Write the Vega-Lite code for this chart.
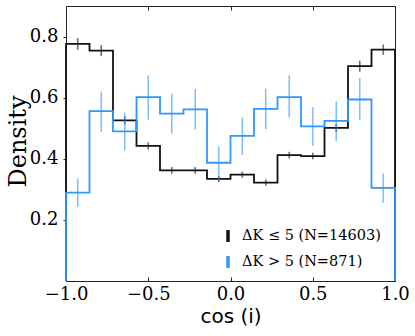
{
  "$schema": "https://vega.github.io/schema/vega-lite/v6.json",
  "width": 329,
  "height": 275,
  "autosize": {"type": "none"},
  "padding": {"left": 66, "top": 6, "right": 20, "bottom": 55},
  "background": "white",
  "config": {
    "view": {"stroke": "#222222", "strokeWidth": 1},
    "font": "DejaVu Serif"
  },
  "datasets": {
    "outline": [
      {"g": "ΔK ≤ 5 (N=14603)", "i": 0, "x": -1, "y": 0},
      {"g": "ΔK ≤ 5 (N=14603)", "i": 1, "x": -1, "y": 0.776},
      {"g": "ΔK ≤ 5 (N=14603)", "i": 2, "x": -0.857143, "y": 0.754},
      {"g": "ΔK ≤ 5 (N=14603)", "i": 3, "x": -0.714286, "y": 0.526},
      {"g": "ΔK ≤ 5 (N=14603)", "i": 4, "x": -0.571429, "y": 0.442},
      {"g": "ΔK ≤ 5 (N=14603)", "i": 5, "x": -0.428571, "y": 0.362},
      {"g": "ΔK ≤ 5 (N=14603)", "i": 6, "x": -0.285714, "y": 0.362},
      {"g": "ΔK ≤ 5 (N=14603)", "i": 7, "x": -0.142857, "y": 0.334},
      {"g": "ΔK ≤ 5 (N=14603)", "i": 8, "x": 0, "y": 0.348},
      {"g": "ΔK ≤ 5 (N=14603)", "i": 9, "x": 0.142857, "y": 0.322},
      {"g": "ΔK ≤ 5 (N=14603)", "i": 10, "x": 0.285714, "y": 0.412},
      {"g": "ΔK ≤ 5 (N=14603)", "i": 11, "x": 0.428571, "y": 0.409},
      {"g": "ΔK ≤ 5 (N=14603)", "i": 12, "x": 0.571429, "y": 0.501},
      {"g": "ΔK ≤ 5 (N=14603)", "i": 13, "x": 0.714286, "y": 0.703},
      {"g": "ΔK ≤ 5 (N=14603)", "i": 14, "x": 0.857143, "y": 0.757},
      {"g": "ΔK ≤ 5 (N=14603)", "i": 15, "x": 1, "y": 0.757},
      {"g": "ΔK ≤ 5 (N=14603)", "i": 16, "x": 1, "y": 0},
      {"g": "ΔK > 5 (N=871)", "i": 0, "x": -1, "y": 0},
      {"g": "ΔK > 5 (N=871)", "i": 1, "x": -1, "y": 0.289},
      {"g": "ΔK > 5 (N=871)", "i": 2, "x": -0.857143, "y": 0.556},
      {"g": "ΔK > 5 (N=871)", "i": 3, "x": -0.714286, "y": 0.490},
      {"g": "ΔK > 5 (N=871)", "i": 4, "x": -0.571429, "y": 0.602},
      {"g": "ΔK > 5 (N=871)", "i": 5, "x": -0.428571, "y": 0.548},
      {"g": "ΔK > 5 (N=871)", "i": 6, "x": -0.285714, "y": 0.562},
      {"g": "ΔK > 5 (N=871)", "i": 7, "x": -0.142857, "y": 0.387},
      {"g": "ΔK > 5 (N=871)", "i": 8, "x": 0, "y": 0.475},
      {"g": "ΔK > 5 (N=871)", "i": 9, "x": 0.142857, "y": 0.563},
      {"g": "ΔK > 5 (N=871)", "i": 10, "x": 0.285714, "y": 0.602},
      {"g": "ΔK > 5 (N=871)", "i": 11, "x": 0.428571, "y": 0.506},
      {"g": "ΔK > 5 (N=871)", "i": 12, "x": 0.571429, "y": 0.524},
      {"g": "ΔK > 5 (N=871)", "i": 13, "x": 0.714286, "y": 0.594},
      {"g": "ΔK > 5 (N=871)", "i": 14, "x": 0.857143, "y": 0.305},
      {"g": "ΔK > 5 (N=871)", "i": 15, "x": 1, "y": 0.305},
      {"g": "ΔK > 5 (N=871)", "i": 16, "x": 1, "y": 0}
    ],
    "errs": [
      {"g": "ΔK ≤ 5 (N=14603)", "xc": -0.928571, "lo": 0.757, "hi": 0.795},
      {"g": "ΔK ≤ 5 (N=14603)", "xc": -0.785714, "lo": 0.736, "hi": 0.772},
      {"g": "ΔK ≤ 5 (N=14603)", "xc": -0.642857, "lo": 0.512, "hi": 0.540},
      {"g": "ΔK ≤ 5 (N=14603)", "xc": -0.5, "lo": 0.430, "hi": 0.454},
      {"g": "ΔK ≤ 5 (N=14603)", "xc": -0.357143, "lo": 0.351, "hi": 0.373},
      {"g": "ΔK ≤ 5 (N=14603)", "xc": -0.214286, "lo": 0.351, "hi": 0.373},
      {"g": "ΔK ≤ 5 (N=14603)", "xc": -0.071429, "lo": 0.324, "hi": 0.344},
      {"g": "ΔK ≤ 5 (N=14603)", "xc": 0.071429, "lo": 0.338, "hi": 0.358},
      {"g": "ΔK ≤ 5 (N=14603)", "xc": 0.214286, "lo": 0.312, "hi": 0.332},
      {"g": "ΔK ≤ 5 (N=14603)", "xc": 0.357143, "lo": 0.401, "hi": 0.423},
      {"g": "ΔK ≤ 5 (N=14603)", "xc": 0.5, "lo": 0.398, "hi": 0.420},
      {"g": "ΔK ≤ 5 (N=14603)", "xc": 0.642857, "lo": 0.488, "hi": 0.514},
      {"g": "ΔK ≤ 5 (N=14603)", "xc": 0.785714, "lo": 0.685, "hi": 0.721},
      {"g": "ΔK ≤ 5 (N=14603)", "xc": 0.928571, "lo": 0.740, "hi": 0.774},
      {"g": "ΔK > 5 (N=871)", "xc": -0.928571, "lo": 0.242, "hi": 0.336},
      {"g": "ΔK > 5 (N=871)", "xc": -0.785714, "lo": 0.488, "hi": 0.620},
      {"g": "ΔK > 5 (N=871)", "xc": -0.642857, "lo": 0.428, "hi": 0.551},
      {"g": "ΔK > 5 (N=871)", "xc": -0.5, "lo": 0.528, "hi": 0.673},
      {"g": "ΔK > 5 (N=871)", "xc": -0.357143, "lo": 0.483, "hi": 0.613},
      {"g": "ΔK > 5 (N=871)", "xc": -0.214286, "lo": 0.496, "hi": 0.629},
      {"g": "ΔK > 5 (N=871)", "xc": -0.071429, "lo": 0.330, "hi": 0.441},
      {"g": "ΔK > 5 (N=871)", "xc": 0.071429, "lo": 0.412, "hi": 0.535},
      {"g": "ΔK > 5 (N=871)", "xc": 0.214286, "lo": 0.497, "hi": 0.629},
      {"g": "ΔK > 5 (N=871)", "xc": 0.357143, "lo": 0.535, "hi": 0.673},
      {"g": "ΔK > 5 (N=871)", "xc": 0.5, "lo": 0.442, "hi": 0.569},
      {"g": "ΔK > 5 (N=871)", "xc": 0.642857, "lo": 0.458, "hi": 0.588},
      {"g": "ΔK > 5 (N=871)", "xc": 0.785714, "lo": 0.526, "hi": 0.664},
      {"g": "ΔK > 5 (N=871)", "xc": 0.928571, "lo": 0.256, "hi": 0.352}
    ]
  },
  "resolve": {"axis": {"x": "independent"}},
  "layer": [
    {
      "data": {"name": "outline"},
      "mark": {"type": "line", "interpolate": "step-after", "strokeWidth": 1.8, "clip": false},
      "encoding": {
        "x": {
          "field": "x", "type": "quantitative",
          "scale": {"domain": [-1, 1], "nice": false, "zero": false},
          "axis": {
            "values": [-1, -0.5, 0, 0.5, 1],
            "labelExpr": "replace(format(datum.value, '.1f'), '-', '−')",
            "labelFont": "DejaVu Serif", "labelFontSize": 18, "labelColor": "#000000",
            "labelPadding": 8, "labelFlush": false,
            "tickSize": -4, "tickColor": "#222222", "domain": false, "grid": false,
            "title": "cos (i)", "titleFont": "DejaVu Sans", "titleFontSize": 20,
            "titleFontWeight": "normal", "titleColor": "#000000",
            "titleBaseline": "alphabetic", "titleY": 41
          }
        },
        "y": {
          "field": "y", "type": "quantitative",
          "scale": {"domain": [0, 0.9], "nice": false},
          "axis": {
            "values": [0.2, 0.4, 0.6, 0.8],
            "format": ".1f",
            "labelFont": "DejaVu Serif", "labelFontSize": 18, "labelColor": "#000000",
            "labelPadding": 5,
            "tickSize": 3, "tickColor": "#222222", "domain": false, "grid": false,
            "title": "Density", "titleFont": "DejaVu Serif", "titleFontSize": 24,
            "titleFontWeight": "normal", "titleColor": "#000000",
            "titleAngle": -90, "titleBaseline": "alphabetic", "titleAlign": "center",
            "titleX": -41, "titleY": 135
          }
        },
        "order": {"field": "i", "type": "quantitative"},
        "detail": {"field": "g"},
        "color": {
          "field": "g", "type": "nominal",
          "scale": {"domain": ["ΔK ≤ 5 (N=14603)", "ΔK > 5 (N=871)"], "range": ["#111111", "#2f97fd"]},
          "legend": {
            "title": null,
            "orient": "none", "legendX": 154, "legendY": 222,
            "symbolType": "M0,-1L0,1", "symbolSize": 140, "symbolStrokeWidth": 3.5,
            "labelFont": "DejaVu Serif", "labelFontSize": 14.5, "labelColor": "#000000",
            "labelOffset": 6, "rowPadding": 0
          }
        }
      }
    },
    {
      "data": {"name": "errs"},
      "mark": {"type": "rule", "strokeWidth": 1.6, "opacity": 0.6},
      "encoding": {
        "x": {
          "field": "xc", "type": "quantitative",
          "axis": {
            "orient": "top", "values": [-1, -0.5, 0, 0.5, 1],
            "labels": false, "title": null, "domain": false, "grid": false,
            "tickSize": -4, "tickColor": "#222222"
          }
        },
        "y": {"field": "lo", "type": "quantitative"},
        "y2": {"field": "hi"},
        "color": {"field": "g", "type": "nominal", "legend": null}
      }
    }
  ]
}
